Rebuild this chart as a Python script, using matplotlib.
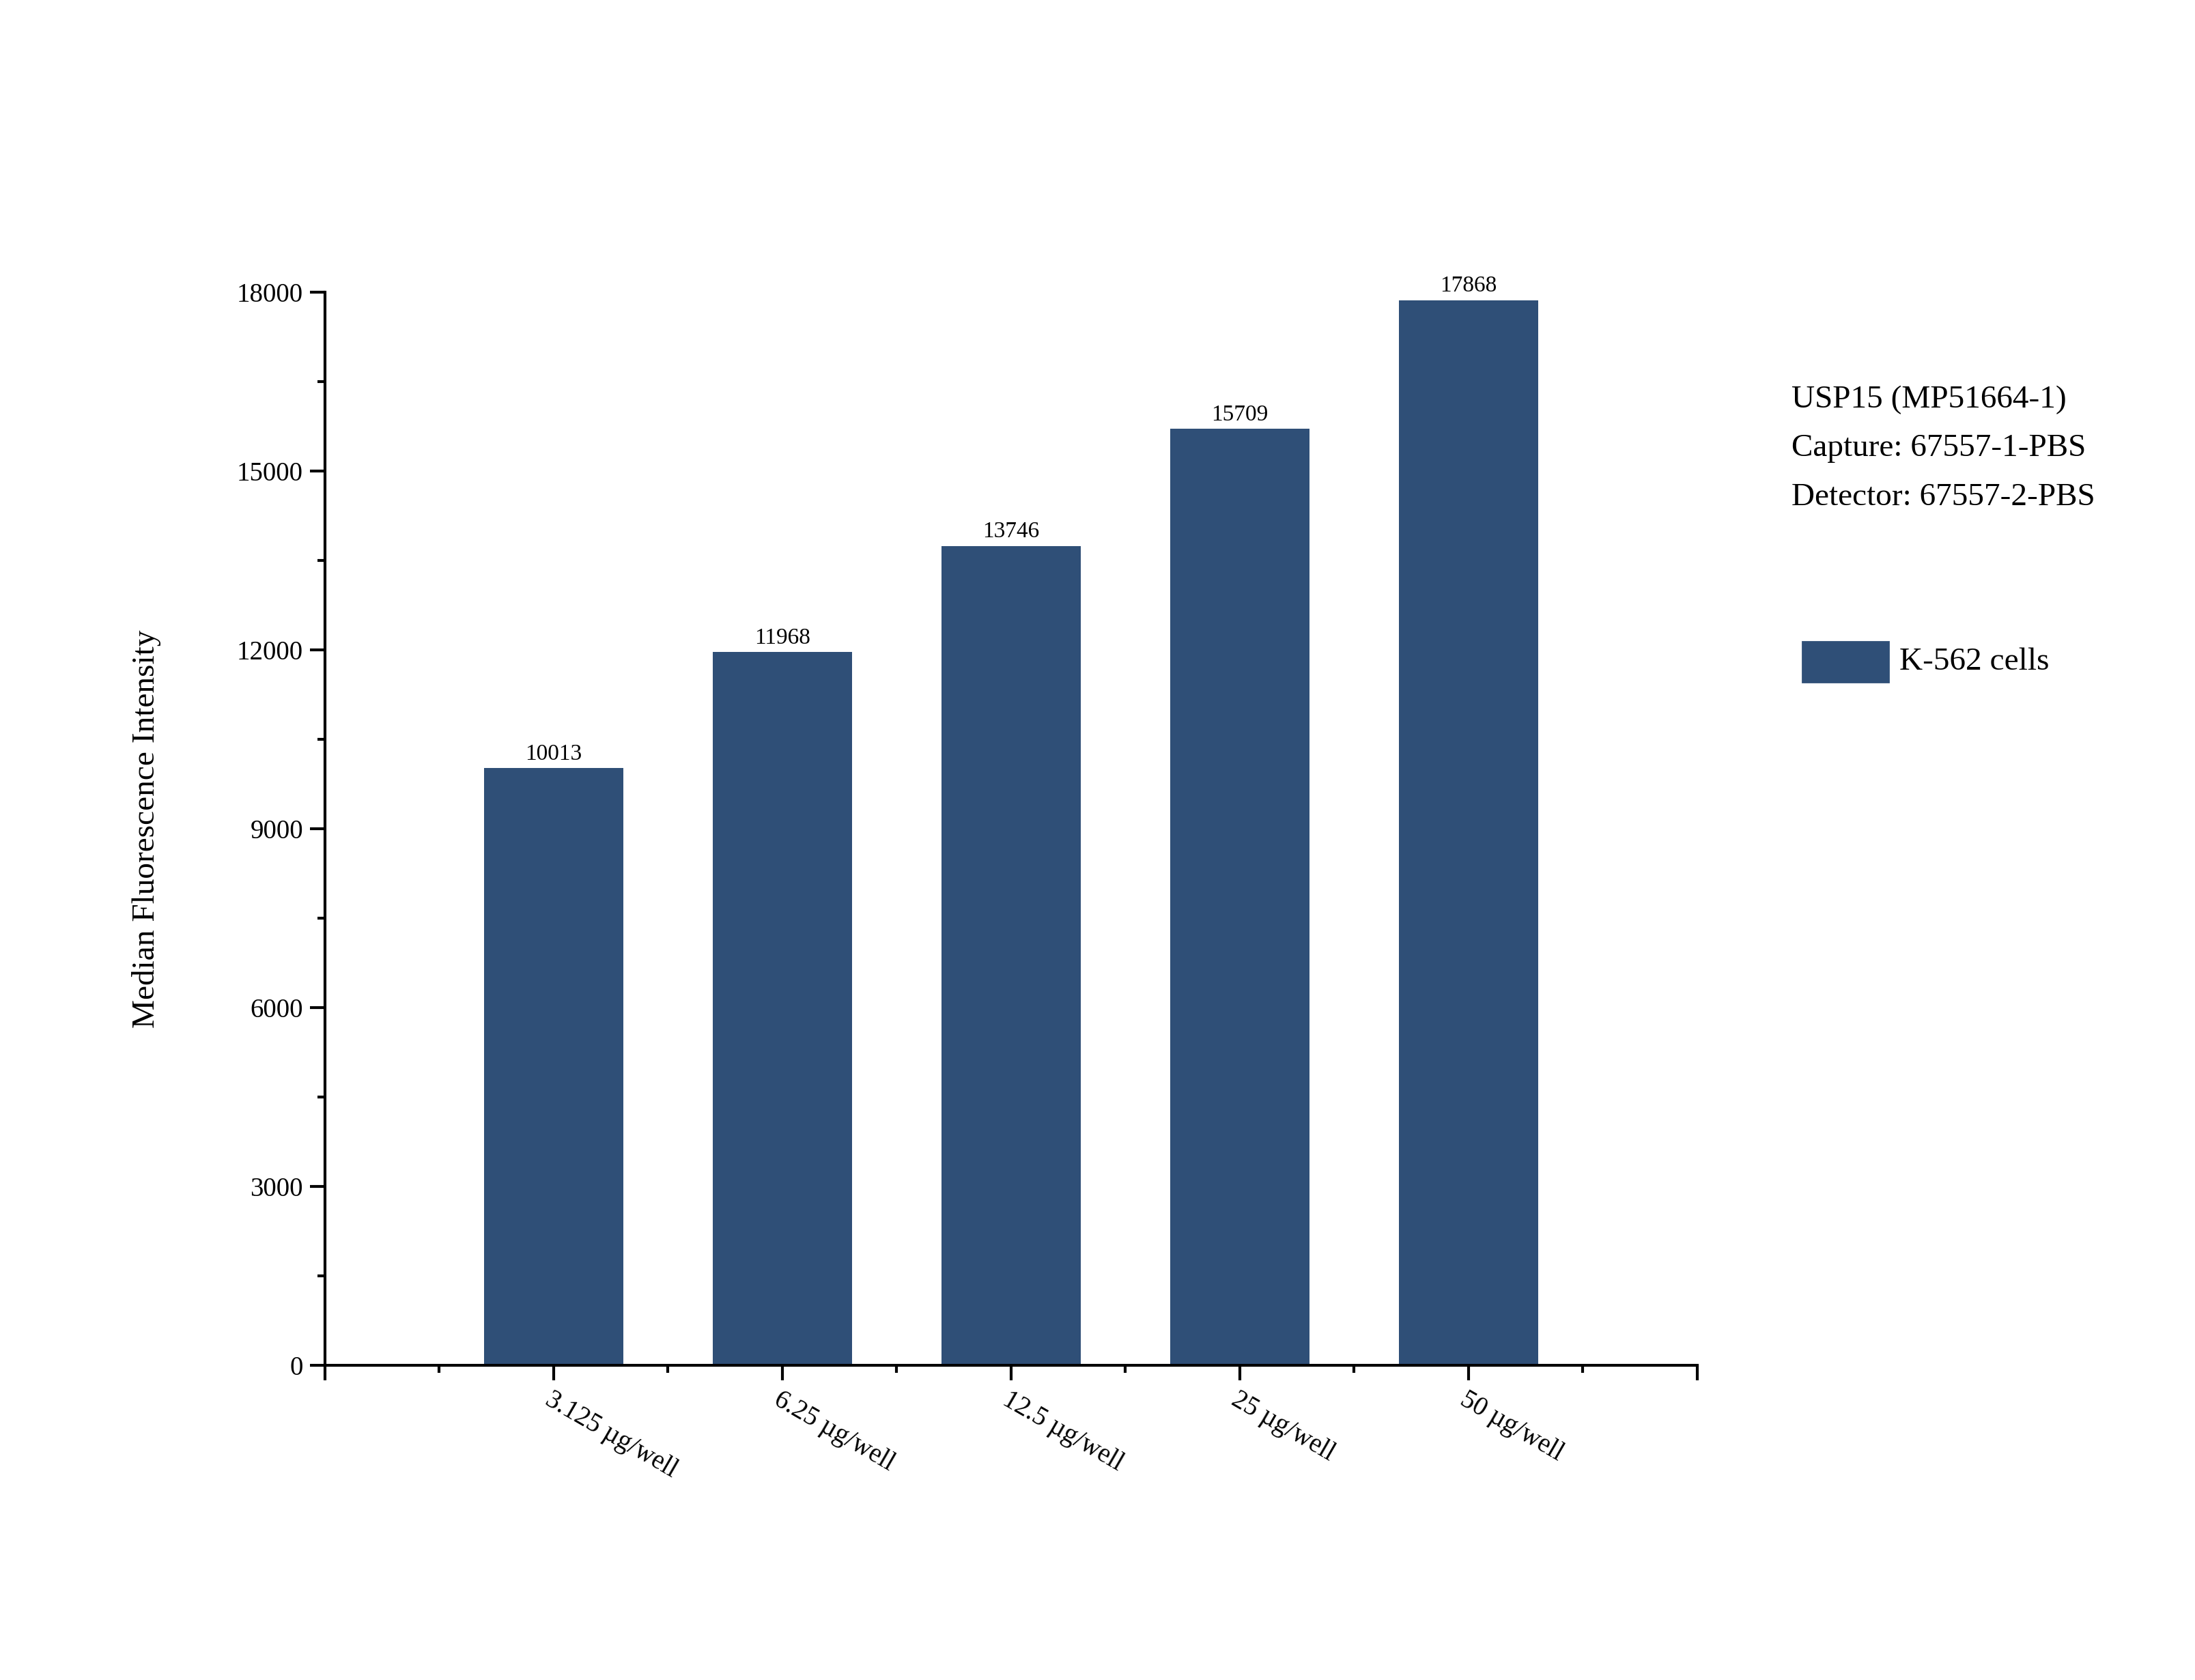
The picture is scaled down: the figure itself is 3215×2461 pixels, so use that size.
import matplotlib.pyplot as plt
from matplotlib.patches import Rectangle
from matplotlib.ticker import MultipleLocator

plt.rcParams['font.family'] = ['Liberation Serif', 'DejaVu Serif']

categories = ['3.125 µg/well', '6.25 µg/well', '12.5 µg/well', '25 µg/well', '50 µg/well']
values = [10013, 11968, 13746, 15709, 17868]
bar_color = '#2F4F77'

fig = plt.figure(figsize=(16.08, 12.305), dpi=200)
ax = fig.add_axes([0.148, 0.1875, 0.625, 0.6385])

pos = list(range(1, len(values) + 1))
ax.bar(pos, values, width=0.61, color=bar_color)
for x, v in zip(pos, values):
    ax.text(x, v + 60, str(v), ha='center', va='bottom', fontsize=12)

ax.set_xlim(0, 6)
ax.set_ylim(0, 18000)
ax.yaxis.set_major_locator(MultipleLocator(3000))
ax.yaxis.set_minor_locator(MultipleLocator(1500))
ax.set_xticks(range(0, 7))
ax.set_xticks([i + 0.5 for i in range(6)], minor=True)
ax.set_xticklabels([''] + categories + [''])
for lab in ax.get_xticklabels():
    lab.set_rotation(-30)
    lab.set_ha('left')
    lab.set_va('top')
    lab.set_rotation_mode('anchor')
    lab.set_x(lab.get_position()[0])
import matplotlib.transforms as mtrans
off = mtrans.ScaledTranslation(-0.12, -0.25, fig.dpi_scale_trans)
for lab in ax.get_xticklabels():
    lab.set_transform(lab.get_transform() + off)

ax.tick_params(axis='both', which='major', direction='out', length=8, width=1.5, labelsize=14)
ax.tick_params(axis='both', which='minor', direction='out', length=4, width=1.5)
ax.tick_params(axis='x', which='both', top=False)
for s in ['top', 'right']:
    ax.spines[s].set_visible(False)
for s in ['left', 'bottom']:
    ax.spines[s].set_linewidth(1.5)

ax.set_ylabel('Median Fluorescence Intensity', fontsize=17, labelpad=40)

fig.text(0.816, 0.762, 'USP15 (MP51664-1)', fontsize=17, va='center')
fig.text(0.816, 0.733, 'Capture: 67557-1-PBS', fontsize=17, va='center')
fig.text(0.816, 0.704, 'Detector: 67557-2-PBS', fontsize=17, va='center')
fig.patches.append(Rectangle((0.821, 0.594), 0.039, 0.024, transform=fig.transFigure,
                             color=bar_color, figure=fig))
fig.text(0.865, 0.606, 'K-562 cells', fontsize=17, va='center')

fig.savefig('out.png', dpi=200)
